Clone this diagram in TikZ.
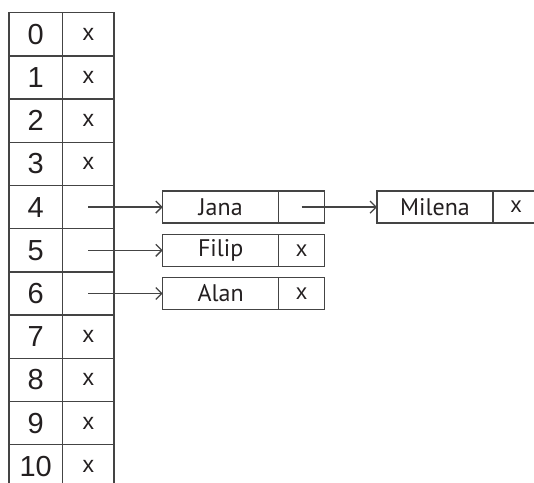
\documentclass[tikz,border=0pt]{standalone}
\usepackage{fontspec}
\setmainfont{Liberation Sans}
\newfontfamily\namefont{PT Sans}
\usetikzlibrary{arrows.meta,positioning}
\definecolor{lineGray}{HTML}{444444}
\definecolor{inkBlack}{HTML}{231F20}

\tikzset{
  cell/.style={draw=lineGray, line width=0.65pt, inner sep=0pt, outer sep=0pt, text=inkBlack},
  keycell/.style={cell, minimum width=26.75pt, minimum height=21.6pt, font=\fontsize{14.5}{14.5}\selectfont},
  valcell/.style={cell, minimum width=25.75pt, minimum height=21.6pt, font=\fontsize{11.5}{11.5}\selectfont},
  namecell/.style={cell, minimum width=58pt, minimum height=16pt, font=\namefont\fontsize{12}{12}\selectfont},
  ptrcell/.style={cell, minimum width=23pt, minimum height=16pt, font=\fontsize{11}{11}\selectfont},
  link/.style={draw=lineGray, line width=0.65pt, -{Straight Barb[length=3pt,width=6pt]}}
}

\begin{document}
\begin{tikzpicture}[x=0.5pt,y=-0.5pt]
    \useasboundingbox (0,0) rectangle (534,482);
    % hash table, buckets 0..10
    \foreach \i/\v in {0/x,1/x,2/x,3/x,4/{},5/{},6/{},7/x,8/x,9/x,10/x} {
        \node[keycell, anchor=north west] (k\i) at (9,12.7+43.2*\i) {\i};
        \node[valcell, right=0pt of k\i] (v\i) {\v};
    }
    % chained entries
    \node[namecell, right=24.35pt of v4] (jana) {Jana};
    \node[ptrcell, right=0pt of jana] (janaNext) {};
    \node[namecell, right=26.15pt of janaNext] (milena) {Milena};
    \node[ptrcell, right=0pt of milena] (milenaNext) {x};
    \node[namecell, right=24.35pt of v5] (filip) {Filip};
    \node[ptrcell, right=0pt of filip] (filipNext) {x};
    \node[namecell, right=24.35pt of v6] (alan) {Alan};
    \node[ptrcell, right=0pt of alan] (alanNext) {x};
    \draw[link] (v4.center) -- (jana);
    \draw[link] (v5.center) -- (filip);
    \draw[link] (v6.center) -- (alan);
    \draw[link] (janaNext.center) -- (milena);
\end{tikzpicture}
\end{document}
